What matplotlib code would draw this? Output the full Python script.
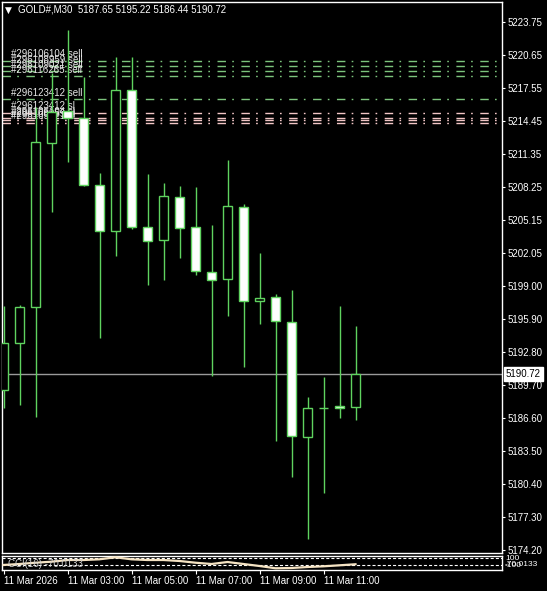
import matplotlib
matplotlib.use('Agg')
import matplotlib.pyplot as plt
import numpy as np

plt.rcParams['font.family'] = ['Liberation Sans', 'DejaVu Sans']
plt.rcParams['lines.scale_dashes'] = False

# GOLD#, M30 candles, 11 Mar 2026 01:00 .. 12:00
times = ['01:00', '01:30', '02:00', '02:30', '03:00', '03:30', '04:00', '04:30',
         '05:00', '05:30', '06:00', '06:30', '07:00', '07:30', '08:00', '08:30',
         '09:00', '09:30', '10:00', '10:30', '11:00', '11:30', '12:00']
opens = [5189.22, 5193.63, 5197.00, 5212.39, 5215.40, 5214.74, 5208.45, 5204.14,
         5217.37, 5204.51, 5203.29, 5207.33, 5204.51, 5200.29, 5199.63, 5206.39,
         5197.57, 5197.94, 5195.60, 5184.80, 5187.53, 5187.72, 5187.65]
highs = [5197.10, 5197.19, 5215.80, 5218.93, 5223.00, 5218.56, 5209.58, 5220.47,
         5220.47, 5209.49, 5208.64, 5208.36, 5208.27, 5204.70, 5210.80, 5206.67,
         5202.07, 5198.22, 5198.60, 5188.56, 5190.44, 5197.10, 5195.22]
lows = [5187.53, 5187.81, 5186.68, 5205.92, 5210.60, 5208.40, 5194.09, 5201.79,
        5204.30, 5199.07, 5199.54, 5201.60, 5200.00, 5190.53, 5196.16, 5191.37,
        5195.41, 5184.43, 5181.05, 5175.23, 5179.55, 5186.59, 5186.44]
closes = [5193.63, 5197.00, 5212.49, 5215.30, 5214.74, 5208.45, 5204.14, 5217.37,
          5204.51, 5203.20, 5207.42, 5204.42, 5200.38, 5199.54, 5206.48, 5197.57,
          5197.85, 5195.69, 5184.90, 5187.53, 5187.53, 5187.53, 5190.72]
cci = [-90, -63, -26, 3, 51, 51, 71, 129, 71, 51, 51, 23, -26, -63, -6, -63,
       -120, -185, -177, -149, -129, -100, -70.0133]

# open trades (entry lines) and their stop levels
sell_prices = [5220.12, 5219.62, 5219.15, 5218.68, 5216.52]
sell_labels = ['#296106104 sell', '#296108959 sell', '#296109021 sell',
               '#296116265 sell', '#296123412 sell']
sl_prices = [5215.24, 5214.74, 5214.53, 5214.30]
sl_labels = ['#296123412 sl', '#296106104 sl', '#296108959 sl', '#296109021 sl']

price_ticks = [5223.75, 5220.65, 5217.55, 5214.45, 5211.35, 5208.25, 5205.15,
               5202.05, 5199.00, 5195.90, 5192.80, 5189.70, 5186.60, 5183.50,
               5180.40, 5177.30, 5174.20]
time_tick_idx = [0, 4, 8, 12, 16, 20]
time_tick_labels = ['11 Mar 2026', '11 Mar 03:00', '11 Mar 05:00',
                    '11 Mar 07:00', '11 Mar 09:00', '11 Mar 11:00']
last_price = 5190.72

W, H = 547, 591
fig = plt.figure(figsize=(W / 100, H / 100), dpi=100, facecolor='black')

green = '#5fd35f'
fs = 7

# main price panel
ax = fig.add_axes([2 / W, 1 - 553 / H, 500 / W, 551 / H], facecolor='black')
ax.set_xlim(-1.5 / 16, (502 - 3.5) / 16)
ax.set_ylim(5173.92, 5225.63)

x = np.arange(len(opens))
o = np.array(opens)
c = np.array(closes)
ax.vlines(x, lows, highs, color=green, lw=1, zorder=3)
bull = c >= o
ax.bar(x[bull], (c - o)[bull], bottom=o[bull], width=0.62, facecolor='black',
       edgecolor=green, lw=1, zorder=4)
ax.bar(x[~bull], (o - c)[~bull], bottom=c[~bull], width=0.62, facecolor='white',
       edgecolor=green, lw=1, zorder=4)

dash = (0, (6.1, 4.5, 1.2, 5.4))
for p, lab in zip(sell_prices, sell_labels):
    ax.axhline(p, color='#7cc47c', lw=1, ls=dash, zorder=1)
    ax.text(0.45, p + 0.6, lab, color='#e6e6e6', fontsize=fs, va='center',
            ha='left', zorder=2)
for p, lab in zip(sl_prices, sl_labels):
    ax.axhline(p, color='#f2c6c6', lw=1, ls=dash, zorder=1)
    ax.text(0.45, p + 0.6, lab, color='#e6e6e6', fontsize=fs, va='center',
            ha='left', zorder=2)

ax.axhline(last_price, color='#9a9a9a', lw=1, zorder=2)

for s in ax.spines.values():
    s.set_color('white')
    s.set_linewidth(1)
ax.set_xticks([])
ax.yaxis.tick_right()
ax.set_yticks(price_ticks)
ax.set_yticklabels([f'{v:.2f}' for v in price_ticks])
ax.tick_params(axis='y', colors='white', labelcolor='white', labelsize=fs,
               length=2.5, width=0.8, pad=1.5)

ax.text(1.008, last_price, f'{last_price:.2f}', transform=ax.get_yaxis_transform(),
        color='black', fontsize=fs, va='center', ha='left', zorder=10,
        bbox=dict(facecolor='white', edgecolor='white', pad=1.2))

fig.text(5 / W, 1 - 10 / H, '\u25bc', color='white', fontsize=6.5,
         va='center', ha='left', family='DejaVu Sans')
fig.text(18 / W, 1 - 10 / H,
         f'GOLD#,M30  {opens[-1]:.2f} {highs[-1]:.2f} {lows[-1]:.2f} {closes[-1]:.2f}',
         color='white', fontsize=fs, va='center', ha='left')

# CCI panel
ax2 = fig.add_axes([2 / W, 1 - 570 / H, 500 / W, 14 / H], facecolor='black')
ax2.set_xlim(ax.get_xlim())
ax2.set_ylim(-234.3, 165.7)
ax2.plot(x, cci, color='#f5e3c3', lw=1.6, zorder=3)
for lvl in (100, -100):
    ax2.axhline(lvl, color='white', lw=0.8, ls=(0, (2.2, 1.5)), zorder=1)
ax2.text(0.012, 0.45, f'CCI(16) {cci[-1]:.4f}', transform=ax2.transAxes,
         color='#d0d0d0', fontsize=fs, va='center', ha='left', zorder=4)
for s in ax2.spines.values():
    s.set_color('white')
    s.set_linewidth(1)
ax2.set_yticks([])
ax2.set_xticks(time_tick_idx)
ax2.set_xticklabels(time_tick_labels, ha='left')
ax2.tick_params(axis='x', colors='white', labelcolor='white', labelsize=fs,
                length=3, width=0.8, pad=1.5)
for lvl, lab in ((100, '100'), (-100, '-100'), (cci[-1], f'{cci[-1]:.4f}')):
    ax2.text(1.006, lvl, lab, transform=ax2.get_yaxis_transform(),
             color='white', fontsize=6, va='center', ha='left')

fig.savefig('out.png', dpi=100, facecolor='black')
